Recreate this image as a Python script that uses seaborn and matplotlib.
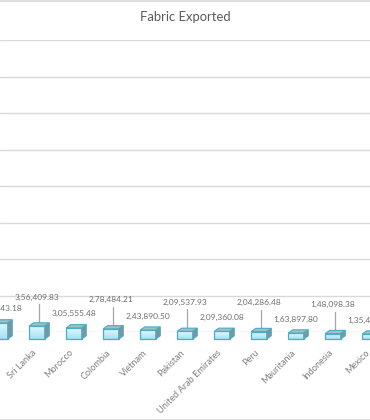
import numpy as np
import pandas as pd
import matplotlib
matplotlib.use("Agg")
import matplotlib.pyplot as plt
import seaborn as sns
from matplotlib.transforms import ScaledTranslation
from matplotlib.patches import Polygon
from matplotlib.lines import Line2D
from matplotlib.colors import LinearSegmentedColormap

# ---- data ----
countries = ["Bangladesh", "Sri Lanka", "Morocco", "Colombia", "Vietnam", "Pakistan",
             "United Arab Emirates", "Peru", "Mauritania", "Indonesia", "Mexico"]
values = [440243.18, 356409.83, 305555.48, 278484.21, 243890.50, 209537.93,
          209360.08, 204286.48, 163897.80, 148098.38, 135412.66]
title = "Fabric Exported"
grid_ticks = [0, 1e6, 2e6, 3e6, 4e6, 5e6, 6e6, 7e6, 8e6]


def indian_format(v):
    s = f"{v:.2f}"
    whole, frac = s.split(".")
    if len(whole) > 3:
        head, tail = whole[:-3], whole[-3:]
        groups = []
        while len(head) > 2:
            groups.insert(0, head[-2:])
            head = head[:-2]
        if head:
            groups.insert(0, head)
        whole = ",".join(groups + [tail])
    return whole + "." + frac


sns.set_style("white")
plt.rcParams["font.family"] = ["Lato", "DejaVu Sans"]

DPI = 100
W, H = 370, 420
fig = plt.figure(figsize=(W / DPI, H / DPI), dpi=DPI)
ax = fig.add_axes([0, 88 / H, 1, 292 / H])

df = pd.DataFrame({"country": countries, "value": values})
sns.barplot(data=df, x="country", y="value", ax=ax, width=0.42,
            color="#bdebf7", saturation=1, edgecolor="#4bacc6", linewidth=0.9)

XLIM = (0.073, 9.734)
ax.set_xlim(*XLIM)
ax.set_ylim(grid_ticks[0], grid_ticks[-1])
ax.set_autoscale_on(False)
ax.set_yticks(grid_ticks)
ax.set_yticklabels([])
ax.yaxis.grid(True, color="#d9d9d9", linewidth=1.0)
ax.set_axisbelow(True)
for s in ax.spines.values():
    s.set_visible(False)
ax.set_xlabel("")
ax.set_ylabel("")
ax.tick_params(axis="both", length=0)
ax.set_xticks(range(len(countries)))
ax.set_xticklabels([])

face_cmap = LinearSegmentedColormap.from_list("face", ["#a3e2f3", "#e6f9fe"])
grad = np.linspace(0, 1, 64).reshape(-1, 1)

# front faces sit in front of the back wall
front = ax.transData + ScaledTranslation(0, -7 / DPI, fig.dpi_scale_trans)
dx, dy = 4.5, 3.2
for i, p in enumerate(list(ax.patches)):
    p.set_transform(front)
    p.set_clip_on(False)
    p.set_zorder(3.5)
    p.set_facecolor("none")
    x0, w, h = p.get_x(), p.get_width(), p.get_height()
    im = ax.imshow(grad, extent=(x0, x0 + w, 0, h), origin="lower", aspect="auto",
                   cmap=face_cmap, interpolation="bilinear", zorder=3.2)
    im.set_transform(front)
    im.set_clip_path(p)

    X0, Y0 = front.transform((x0, 0))
    X1, Y1 = front.transform((x0 + w, h))
    top = Polygon([(X0, Y1), (X1, Y1), (X1 + dx, Y1 + dy), (X0 + dx, Y1 + dy)],
                  closed=True, transform=None, facecolor="#a9bcc1",
                  edgecolor="#4bacc6", linewidth=0.8, zorder=3, clip_on=False)
    side = Polygon([(X1, Y0), (X1 + dx, Y0 + dy), (X1 + dx, Y1 + dy), (X1, Y1)],
                   closed=True, transform=None, facecolor="#7b959c",
                   edgecolor="#4bacc6", linewidth=0.8, zorder=3, clip_on=False)
    fig.add_artist(top)
    fig.add_artist(side)

    Xc = (X0 + X1) / 2
    raised = (i % 2 == 1)
    off = 29 if raised else 14
    fig.text(Xc, Y1 + off, indian_format(values[i]), transform=None,
             ha="center", va="center", fontsize=6.0, color="#6f6f6f")
    if raised:
        fig.add_artist(Line2D([Xc + dx / 2, Xc + dx / 2], [Y1 + dy / 2, Y1 + off - 7],
                              transform=None, color="#a6a6a6", linewidth=0.9, zorder=2))

    # category label, rotated, anchored at its upper-right end below the box
    fig.text(Xc - 5, Y0 - 9, countries[i], transform=None, rotation=45,
             rotation_mode="anchor", ha="right", va="top",
             fontsize=6.6, color="#808080")

fig.text(0.5, 1 - 17 / H, title, ha="center", va="center", fontsize=9.4, color="#595959")

# chart area border (top and bottom edges visible)
fig.add_artist(Line2D([0, W], [H - 0.5, H - 0.5], transform=None, color="#d9d9d9", linewidth=1.2))
fig.add_artist(Line2D([0, W], [0.5, 0.5], transform=None, color="#d9d9d9", linewidth=1.2))

fig.savefig("out.png", dpi=DPI, facecolor="white")
